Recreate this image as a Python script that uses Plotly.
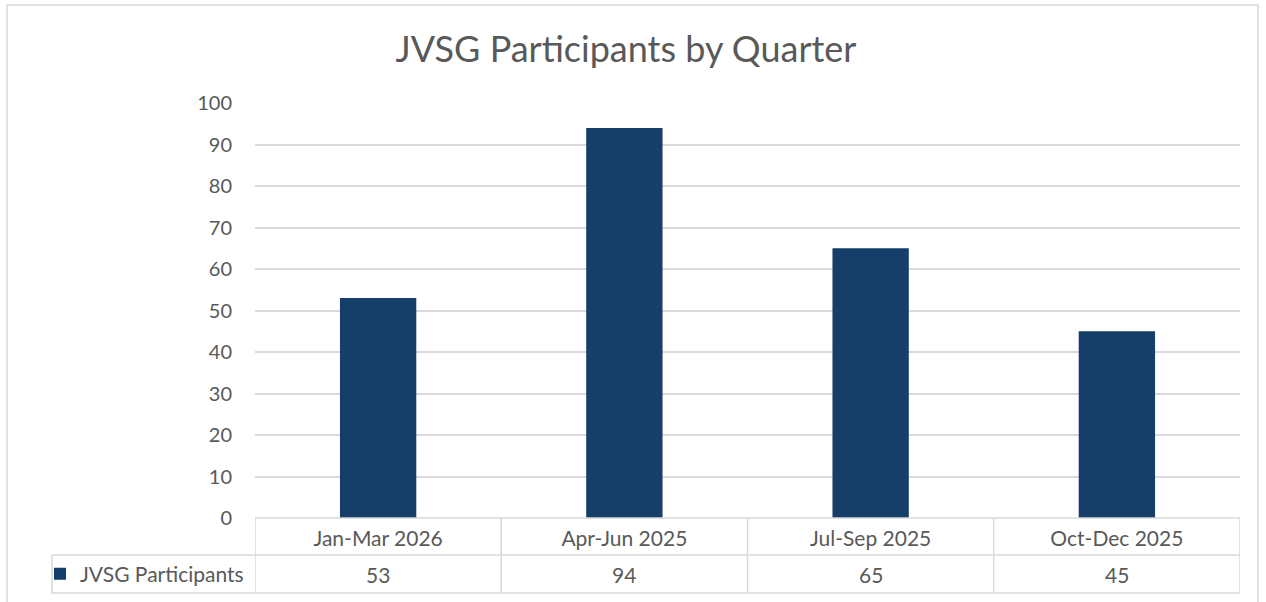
import plotly.graph_objects as go

# datos del grafico
quarters = ['Jan-Mar 2026', 'Apr-Jun 2025', 'Jul-Sep 2025', 'Oct-Dec 2025']
participants = [53, 94, 65, 45]
series_name = 'JVSG Participants'
y_ticks = list(range(0, 101, 10))

bar_color = '#153F69'
grid_color = '#D9D9D9'
text_color = '#595959'
font_family = 'Lato'

fig = go.Figure()

fig.add_trace(go.Bar(
    x=quarters,
    y=participants,
    name=series_name,
    marker=dict(color=bar_color, line=dict(width=0)),
    showlegend=True,
))

# fila de valores de la tabla de datos
for q, v in zip(quarters, participants):
    fig.add_annotation(
        x=q, y=-0.135, xref='x', yref='paper',
        text=str(v), showarrow=False,
        font=dict(family=font_family, size=21, color=text_color),
        xanchor='center', yanchor='middle',
    )

# lineas de la tabla de datos
n = len(quarters)
line = dict(color=grid_color, width=1.5)
y_row1 = 0.0
y_row2 = -0.0892
y_row3 = -0.181
x_left_legend = (52 - 255) / 985
fig.add_shape(type='line', xref='x', yref='paper', x0=-0.5, x1=n - 0.5, y0=y_row1, y1=y_row1, line=line)
fig.add_shape(type='line', xref='paper', yref='paper', x0=x_left_legend, x1=1, y0=y_row2, y1=y_row2, line=line)
fig.add_shape(type='line', xref='paper', yref='paper', x0=x_left_legend, x1=1, y0=y_row3, y1=y_row3, line=line)
fig.add_shape(type='line', xref='paper', yref='paper', x0=x_left_legend, x1=x_left_legend, y0=y_row3, y1=y_row2, line=line)
for i in range(n + 1):
    fig.add_shape(type='line', xref='x', yref='paper', x0=i - 0.5, x1=i - 0.5,
                  y0=y_row3, y1=y_row1, line=line)

# borde exterior del grafico
fig.add_shape(type='rect', xref='paper', yref='paper',
              x0=(7 - 255) / 985, x1=(1258 - 255) / 985,
              y0=(518 - 610) / 415, y1=(518 - 5) / 415,
              line=dict(color=grid_color, width=1.5), layer='below')

fig.update_layout(
    width=1266,
    height=602,
    margin=dict(l=255, r=26, t=103, b=84, autoexpand=False),
    paper_bgcolor='white',
    plot_bgcolor='white',
    bargap=0.69,
    font=dict(family=font_family, color=text_color),
    title=dict(
        text='JVSG Participants by Quarter',
        x=626 / 1266, xanchor='center',
        y=1 - 49 / 602, yanchor='middle',
        font=dict(family=font_family, size=36, color=text_color),
    ),
    legend=dict(
        x=(40 - 255) / 985, xanchor='left',
        y=-0.135, yanchor='middle',
        font=dict(family=font_family, size=21, color=text_color),
        bgcolor='rgba(0,0,0,0)',
        itemwidth=30,
    ),
    xaxis=dict(
        type='category',
        range=[-0.5, n - 0.5],
        showgrid=False,
        showline=False,
        zeroline=False,
        ticks='',
        tickfont=dict(family=font_family, size=21, color=text_color),
        ticklabelstandoff=6,
    ),
    yaxis=dict(
        range=[0, 100],
        tickvals=y_ticks,
        showgrid=True,
        gridcolor=grid_color,
        gridwidth=1.5,
        zeroline=False,
        showline=False,
        ticks='',
        tickfont=dict(family=font_family, size=20, color=text_color),
        ticklabelstandoff=22,
    ),
)

# quitar el margen por defecto del body para que el grafico quede en (0, 0)
fig.write_html('out.html', config={'displayModeBar': False},
               post_script="document.body.style.margin = '0';")
